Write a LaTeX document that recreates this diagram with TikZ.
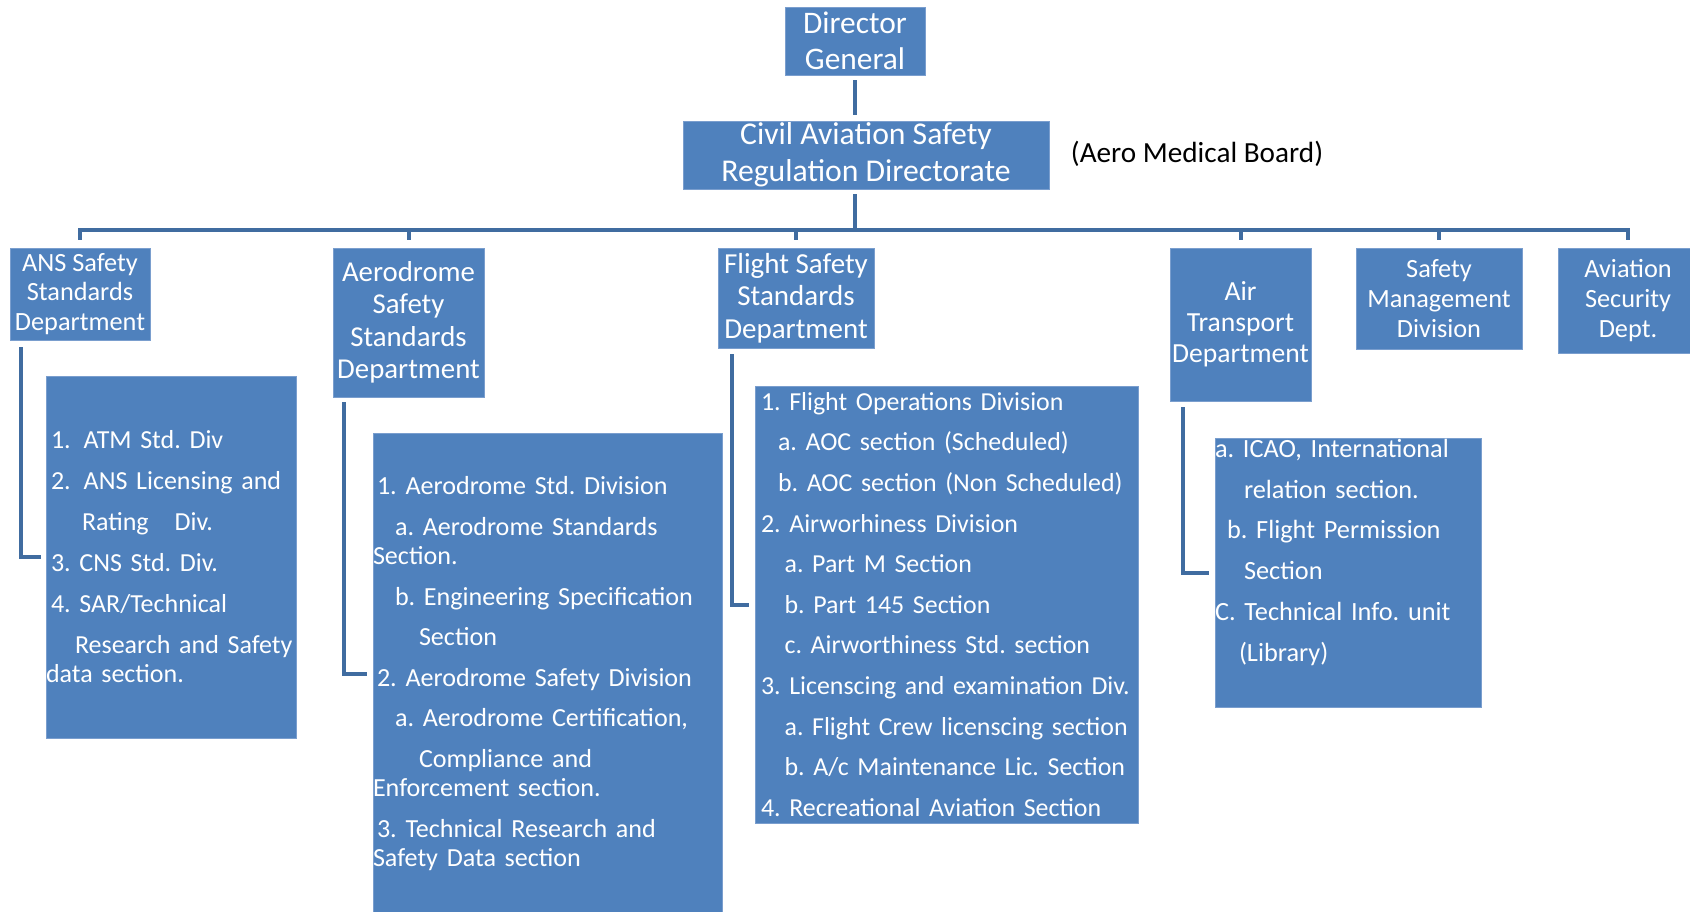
\documentclass[tikz,border=0pt]{standalone}
\usepackage{fontspec}
\setmainfont{Carlito}
\definecolor{boxblue}{RGB}{79,129,189}
\definecolor{boxedge}{RGB}{122,158,206}
\definecolor{linkblue}{RGB}{64,108,160}
\usetikzlibrary{positioning}
\frenchspacing
\hyphenpenalty=10000
\exhyphenpenalty=10000

\begin{document}
\begin{tikzpicture}[x=1pt,y=-1pt,
	unit/.style={rectangle,fill=boxblue,draw=boxedge,line width=0.8pt,text=white,align=center,inner sep=0pt},
	dept/.style={unit,font=\fontsize{26.3}{29.6}\selectfont},
	list/.style={unit,align=left,font=\fontsize{26.3}{40.7}\selectfont},
	link/.style={draw=linkblue,line width=4pt}]
	\useasboundingbox (0,0) rectangle (1690,911);
	% top of the chart
	\node[unit,minimum width=140pt,minimum height=68pt,font=\fontsize{31.4}{35.5}\selectfont] (dg) at (855,41) {Director\\General};
	\node[unit,minimum width=366pt,minimum height=68pt,font=\fontsize{31.7}{36.6}\selectfont] (casrd) at (866,155) {Civil Aviation Safety\\Regulation Directorate};
	\node[font=\fontsize{29.2}{34}\selectfont,inner sep=0pt] (amb) at (1197,154) {(Aero Medical Board)};
	\coordinate (bus) at (855,230);
	% departments
	\node[dept,minimum width=140pt,minimum height=92pt] (ans) at (80,294) {ANS Safety\\Standards\\Department};
	\node[dept,minimum width=151pt,minimum height=149pt,font=\fontsize{28.8}{32.4}\selectfont] (aero) at (408.5,322.5) {Aerodrome\\Safety\\Standards\\Department};
	\node[dept,minimum width=156pt,minimum height=100pt,font=\fontsize{29}{32.3}\selectfont] (flight) at (796,298) {Flight Safety\\Standards\\Department};
	\node[dept,minimum width=141pt,minimum height=153pt,font=\fontsize{27.6}{31}\selectfont] (atd) at (1240.5,324.5) {Air\\Transport\\Department};
	\node[dept,minimum width=166pt,minimum height=101pt] (smd) at (1439,298.5) {Safety\\Management\\Division};
	\node[dept,minimum width=140pt,minimum height=105pt] (avsec) at (1628,300.5) {Aviation\\Security\\Dept.};
	% divisions and sections
	\node[list,text width=250pt,minimum height=362pt,font=\fontsize{26}{29}\selectfont] (anslist) at (171,557) {%
		\hspace*{5pt}1.\hspace{13pt}ATM Std. Div\\[12pt]
		\hspace*{5pt}2.\hspace{13pt}ANS Licensing and\\[12pt]
		\hspace*{36pt}Rating\ \ \ Div.\\[12pt]
		\hspace*{5pt}3. CNS Std. Div.\\[12pt]
		\hspace*{5pt}4. SAR/Technical\\[12pt]
		\hspace*{29pt}Research and Safety\\
		data section.};
	\node[list,text width=349pt,minimum height=482pt,font=\fontsize{26.1}{29.5}\selectfont] (aerolist) at (547.5,674) {%
		\hspace*{4pt}1. Aerodrome Std. Division\\[11pt]
		\hspace*{22pt}a. Aerodrome Standards\\
		Section.\\[11pt]
		\hspace*{22pt}b. Engineering Specification\\[11pt]
		\hspace*{46pt}Section\\[11pt]
		\hspace*{4pt}2. Aerodrome Safety Division\\[11pt]
		\hspace*{22pt}a. Aerodrome Certification,\\[11pt]
		\hspace*{46pt}Compliance and\\
		Enforcement section.\\[11pt]
		\hspace*{4pt}3. Technical Research and\\
		Safety Data section};
	\node[list,text width=383pt,minimum height=437pt,font=\fontsize{25.9}{40.6}\selectfont] (flightlist) at (946.5,604.5) {%
		\hspace*{6pt}1. Flight Operations Division\\
		\hspace*{23pt}a. AOC section (Scheduled)\\
		\hspace*{23pt}b. AOC section (Non Scheduled)\\
		\hspace*{6pt}2. Airworhiness Division\\
		\hspace*{29.6pt}a. Part M Section\\
		\hspace*{29.6pt}b. Part 145 Section\\
		\hspace*{29.6pt}c. Airworthiness Std. section\\
		\hspace*{6pt}\mbox{3. Licenscing and examination Div.}\\
		\hspace*{29.6pt}a. Flight Crew licenscing section\\
		\hspace*{29.6pt}b. A/c Maintenance Lic. Section\\
		\hspace*{6pt}4. Recreational Aviation Section};
	\node[list,text width=266pt,minimum height=269pt] (atdlist) at (1348,572.5) {%
		a. ICAO, International\\
		\hspace*{29pt}relation section.\\
		\hspace*{12pt}b. Flight Permission\\
		\hspace*{29pt}Section\\
		C. Technical Info. unit\\
		\hspace*{24pt}(Library)\\[4pt]
		\mbox{}};
	% connectors
	\draw[link,shorten <=5pt,shorten >=6pt] (dg.south) -- (dg.south |- casrd.north);
	\draw[link,shorten <=5pt] (dg.south |- casrd.south) -- (bus);
	\draw[link,shorten <=8pt,shorten >=8pt] (ans.north) |- (bus) -| (avsec.north);
	\foreach \d in {aero,flight,atd,smd}
		\draw[link,shorten <=8pt] (\d.north) -- (\d.north |- bus);
	\draw[link,shorten <=7pt,shorten >=5pt] ([xshift=11pt]ans.south west) |- (anslist.west);
	\draw[link,shorten <=5pt,shorten >=6pt] ([xshift=11pt]aero.south west) |- (aerolist.west);
	\draw[link,shorten <=6pt,shorten >=6pt] ([xshift=14pt]flight.south west) |- (flightlist.west);
	\draw[link,shorten <=6pt,shorten >=6pt] ([xshift=13pt]atd.south west) |- (atdlist.west);
\end{tikzpicture}
\end{document}
